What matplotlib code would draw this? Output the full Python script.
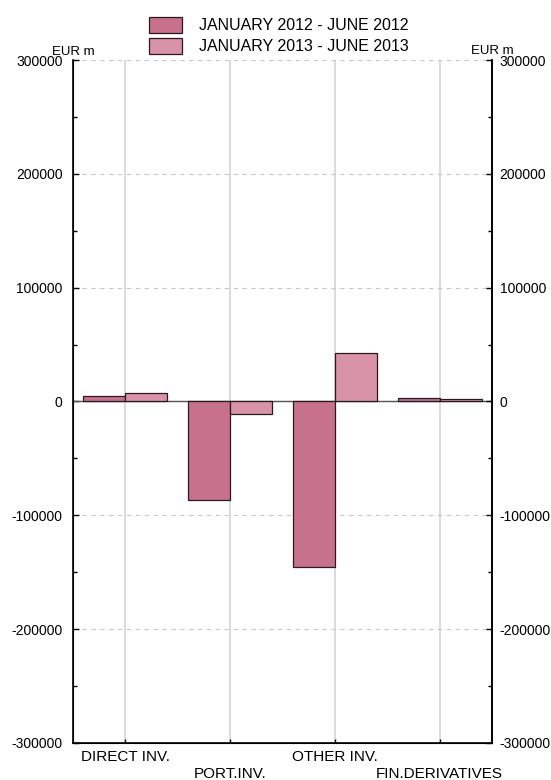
#! /usr/bin/env python3
# -*- coding: utf-8 -*-
import numpy as np
import matplotlib
matplotlib.use("Agg")
import matplotlib.pyplot as plt
from matplotlib.ticker import MultipleLocator

# --- DATA ---
categories = ["DIRECT INV.", "PORT.INV.", "OTHER INV.", "FIN.DERIVATIVES"]
series_names = ["JANUARY 2012 - JUNE 2012", "JANUARY 2013 - JUNE 2013"]
values_2012 = [4700, -86800, -145000, 3300]
values_2013 = [7300, -10800, 43000, 2000]
y_ticks = [-300000, -200000, -100000, 0, 100000, 200000, 300000]

COLORS = ["#c8718c", "#d893a8"]
EDGE = "#2a1a1f"

plt.rcParams["font.family"] = ["Liberation Sans", "DejaVu Sans"]
plt.rcParams["font.size"] = 10
plt.rcParams["axes.unicode_minus"] = False

fig = plt.figure(figsize=(5.51, 7.8), dpi=100)
ax = fig.add_axes([73 / 551, 1 - 743 / 780, 419 / 551, 683 / 780])

x = np.arange(len(categories))
w = 0.4
b1 = ax.bar(x - w / 2, values_2012, w, color=COLORS[0], edgecolor=EDGE, lw=0.9,
            label=series_names[0], zorder=3)
b2 = ax.bar(x + w / 2, values_2013, w, color=COLORS[1], edgecolor=EDGE, lw=0.9,
            label=series_names[1], zorder=3)

ax.set_xlim(-0.5, len(categories) - 0.5)
ax.set_ylim(-300000, 300000)
ax.set_yticks(y_ticks)
ax.yaxis.set_minor_locator(MultipleLocator(50000))
ax.set_xticks(x)
ax.set_xticklabels(categories, fontsize=11)
# etiquetas alternadas em duas linhas
for i, t in enumerate(ax.xaxis.get_major_ticks()):
    t.set_pad(5 if i % 2 == 0 else 17.5)

# grades
ax.grid(axis="y", color="#c8c8c8", linestyle=(0, (4, 4)), lw=0.8, zorder=0)
ax.grid(axis="x", color="#d4d4d4", linestyle="-", lw=1.2, zorder=0)
ax.axhline(0, color="#555555", lw=1.0, zorder=2)

for s in ["left", "right", "bottom"]:
    ax.spines[s].set_linewidth(1.2)
    ax.spines[s].set_color("black")
ax.spines["top"].set_visible(False)

ax.tick_params(axis="y", which="both", direction="in", left=True, right=False,
               labelleft=True, labelright=False, length=4, width=1, pad=7.5)
ax.tick_params(axis="y", which="minor", length=3)
ax.tick_params(axis="x", direction="in", length=3, width=1, colors="black")

# eixo direito com as mesmas marcas
ax2 = ax.twinx()
ax2.set_ylim(ax.get_ylim())
ax2.set_yticks(y_ticks)
ax2.yaxis.set_minor_locator(MultipleLocator(50000))
ax2.spines["top"].set_visible(False)
ax2.spines["right"].set_linewidth(1.2)
ax2.tick_params(axis="y", which="both", direction="in", length=4, width=1, pad=5.5)
ax2.tick_params(axis="y", which="minor", length=3)

ax.text(0.0, 1.0117, "EUR m", transform=ax.transAxes, ha="center", va="center", fontsize=9.5)
ax.text(1.0, 1.0135, "EUR m", transform=ax.transAxes, ha="center", va="center", fontsize=9.5)

leg = fig.legend(handles=[b1, b2], loc="upper left", bbox_to_anchor=(135 / 551, 1 - 2.5 / 780),
                 frameon=False, handlelength=2.06, handleheight=1.16, handletextpad=1.03,
                 labelspacing=0.3, fontsize=11.5)

fig.savefig("out.png", dpi=100)
